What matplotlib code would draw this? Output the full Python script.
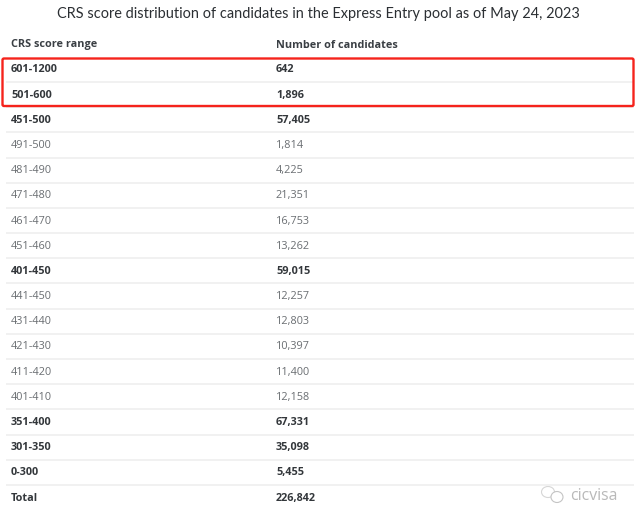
import matplotlib
matplotlib.use('Agg')
import matplotlib.pyplot as plt
from matplotlib.patches import Ellipse, FancyBboxPatch

plt.rcParams['font.family'] = ['Open Sans', 'DejaVu Sans']

title = 'CRS score distribution of candidates in the Express Entry pool as of May 24, 2023'
headers = ['CRS score range', 'Number of candidates']
score_ranges = ['601-1200', '501-600', '451-500', '491-500', '481-490', '471-480',
                '461-470', '451-460', '401-450', '441-450', '431-440', '421-430',
                '411-420', '401-410', '351-400', '301-350', '0-300', 'Total']
candidates = ['642', '1,896', '57,405', '1,814', '4,225', '21,351',
              '16,753', '13,262', '59,015', '12,257', '12,803', '10,397',
              '11,400', '12,158', '67,331', '35,098', '5,455', '226,842']
bold_rows = [0, 1, 2, 8, 14, 15, 16, 17]

fig = plt.figure(figsize=(6.4, 5.21), dpi=100)
ax = fig.add_axes([0, 0, 1, 1])
ax.set_xlim(0, 640)
ax.set_ylim(521, 0)
ax.axis('off')

ax.text(318.5, 14, title, ha='center', va='center', fontsize=10.45, color='#2b2f33', family='Lato')
ax.text(11, 45, headers[0], va='center', fontsize=7.85, fontweight='bold', color='#3a3f44')
ax.text(276, 45, headers[1], va='center', fontsize=7.85, fontweight='bold', color='#3a3f44')

# rows sit on a fixed pitch, separators a fixed offset below the text
for i in range(len(score_ranges)):
    y = 70 + i * 25.18
    if i in bold_rows:
        weight, colour = 'bold', '#33373b'
    else:
        weight, colour = 'normal', '#6a6e72'
    ax.text(11, y, score_ranges[i], va='center', fontsize=7.85, fontweight=weight, color=colour)
    ax.text(276, y, candidates[i], va='center', fontsize=7.85, fontweight=weight, color=colour)
    if i < len(score_ranges) - 1:
        ax.plot([6, 634], [y + 12, y + 12], color='#eeeeee', lw=1.1, solid_capstyle='butt')

# red highlight round the first two rows
ax.add_patch(FancyBboxPatch((2.5, 58.5), 631, 47.5, boxstyle='round,pad=0,rounding_size=1.5',
                            fill=False, edgecolor='#f5231c', lw=1.7, zorder=5))

# wechat style watermark
ax.add_patch(Ellipse((548, 492), 13, 11, fill=False, edgecolor='#d6d6d6', lw=0.8))
ax.add_patch(Ellipse((557, 497), 12, 11, facecolor='white', edgecolor='#c4c4c4', lw=0.8, zorder=3))
ax.text(570, 496, 'cicvisa', va='center', fontsize=11.4, color='#b9b9b9')

fig.savefig('out.png', dpi=100)
